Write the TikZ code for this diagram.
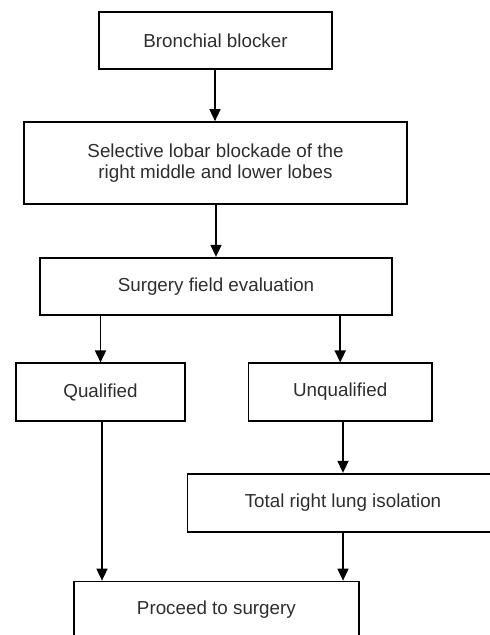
\documentclass[tikz,border=0pt]{standalone}
\usepackage{fontspec}
\setmainfont{Liberation Sans}
\usetikzlibrary{positioning}
\usetikzlibrary{arrows.meta}
\usetikzlibrary{calc}

\begin{document}
\begin{tikzpicture}[x=1pt,y=-1pt,line width=1.7pt,
    stepbox/.style={draw=black, rectangle, align=center, inner sep=0pt,
      text=black!82, font=\fontsize{18.8}{21}\selectfont},
    arr/.style={-{Triangle[length=12pt,width=11pt]}}]

  % frame of the picture
  \useasboundingbox (0,0) rectangle (490,635);
  \clip (0,0) rectangle (490,635);

  % boxes of the flow
  \node[stepbox, minimum width=232.5, minimum height=57] (bb) at (215.5, 40.5)
    {Bronchial blocker};
  \node[stepbox, minimum width=383, minimum height=82] (slb) at (215.5, 163)
    {Selective lobar blockade of the\\right middle and lower lobes};
  \node[stepbox, minimum width=352, minimum height=57.6] (sfe) at (216, 286.5)
    {Surgery field evaluation};

  % the two outcomes
  \node[stepbox, minimum width=169.6, minimum height=57.4] (qual) at (100.5, 392)
    {Qualified};
  \node[stepbox, minimum width=183.7, minimum height=57.4] (unq) at (340.2, 392)
    {Unqualified};

  \node[stepbox, minimum width=311, minimum height=58] (trl) at (343, 502.7)
    {Total right lung isolation};
  \node[stepbox, minimum width=285.3, minimum height=57] (proc) at (216.4, 610)
    {Proceed to surgery};

  % connectors
  \draw[arr] (bb.south -| 215,0) -- (slb.north -| 215,0);
  \draw[arr] (slb.south -| 216,0) -- (sfe.north -| 216,0);
  \draw[arr] (sfe.south -| qual.north) -- (qual.north);
  \draw[arr] (sfe.south -| unq.north) -- (unq.north);
  \draw[arr] (unq.south -| trl.north) -- (trl.north);
  \draw[arr] (qual.south -| 102,0) -- (proc.north -| 102,0);
  \draw[arr] (trl.south) -- (trl.south |- proc.north);

\end{tikzpicture}
\end{document}
